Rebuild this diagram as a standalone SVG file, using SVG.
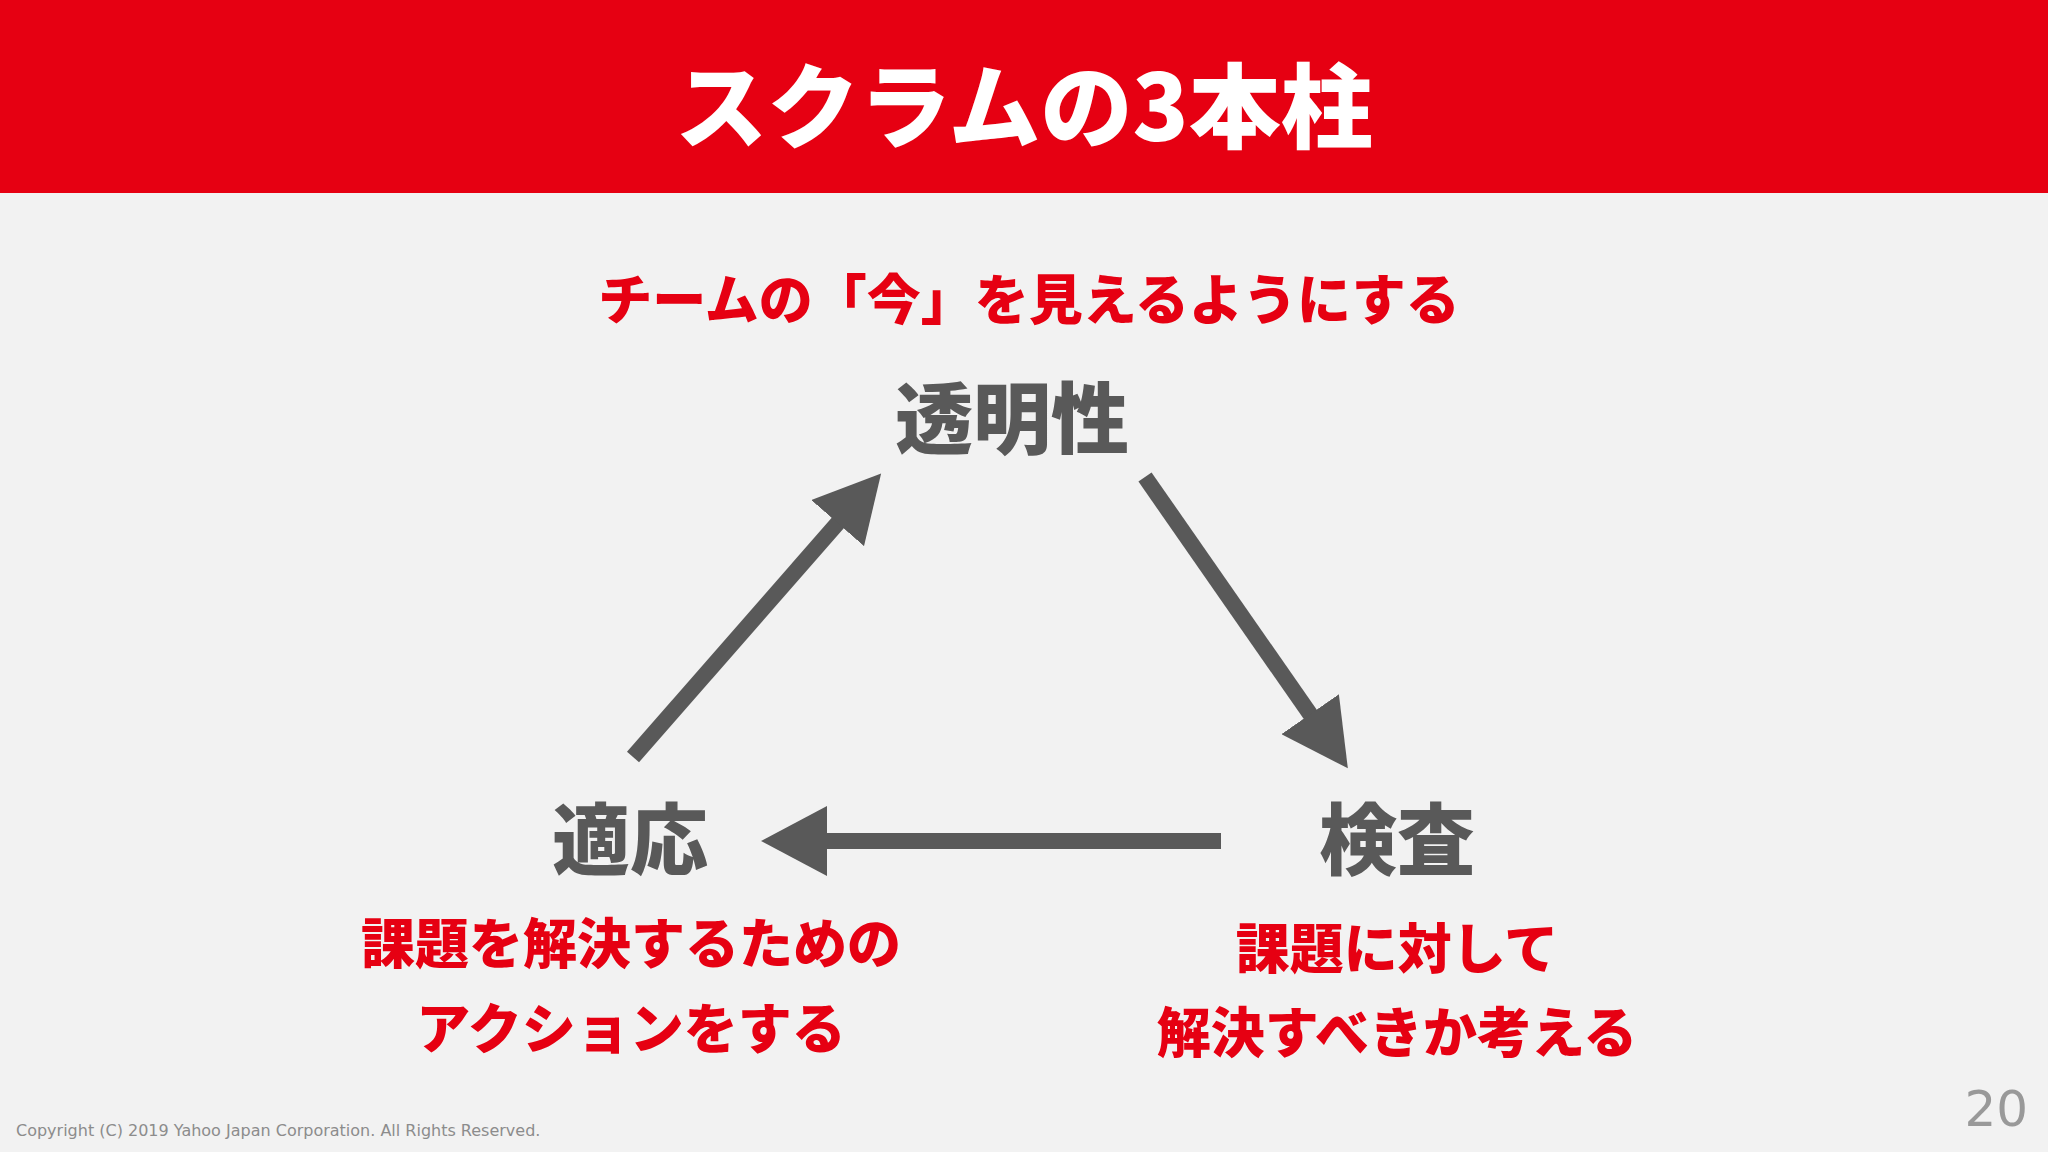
<svg xmlns="http://www.w3.org/2000/svg" width="2048" height="1152" viewBox="0 0 2048 1152">
<style>
text{font-family:"Noto Sans CJK JP","Noto Sans",sans-serif;font-weight:900;text-anchor:middle}
.red{fill:#E60012;font-size:54px}
.node{fill:#595959;font-size:78px}
.conn{stroke:#595959;stroke-width:16;fill:none}
</style>
<defs>
<marker id="ah" markerUnits="userSpaceOnUse" markerWidth="70" markerHeight="70" refX="40" refY="35" orient="auto">
<path d="M0,0 L66,35 L0,70 z" fill="#595959"/>
</marker>
</defs>
<rect width="2048" height="1152" fill="#F2F2F2"/>
<rect width="2048" height="193" fill="#E60012"/>
<text x="1024" y="141" style="fill:#fff;font-size:92px">スクラムの3本柱</text>
<text class="red" x="1029" y="320">チームの「今」を見えるようにする</text>
<g id="n1"><text class="node" x="1012" y="448">透明性</text></g>
<g id="n2"><text class="node" x="1397" y="869">検査</text>
<text class="red" x="1397" y="969">課題に対して</text>
<text class="red" x="1397" y="1053">解決すべきか考える</text></g>
<g id="n3"><text class="node" x="630" y="869">適応</text>
<text class="red" x="631" y="964">課題を解決するための</text>
<text class="red" x="631" y="1049">アクションをする</text></g>
<g id="connectors">
<line class="conn" x1="633" y1="757" x2="864" y2="493" marker-end="url(#ah)"/>
<line class="conn" x1="1145" y1="477" x2="1333" y2="747" marker-end="url(#ah)"/>
<line class="conn" x1="1221" y1="841" x2="787" y2="841" marker-end="url(#ah)"/>
</g>
<text x="16" y="1136" style="text-anchor:start;font-family:Verdana,'DejaVu Sans',sans-serif;font-weight:400;font-size:16px;fill:#8c8c8c">Copyright (C) 2019 Yahoo Japan Corporation. All Rights Reserved.</text>
<text x="2028" y="1126" style="text-anchor:end;font-family:'DejaVu Sans',sans-serif;font-weight:400;font-size:50px;fill:#999">20</text>
</svg>
